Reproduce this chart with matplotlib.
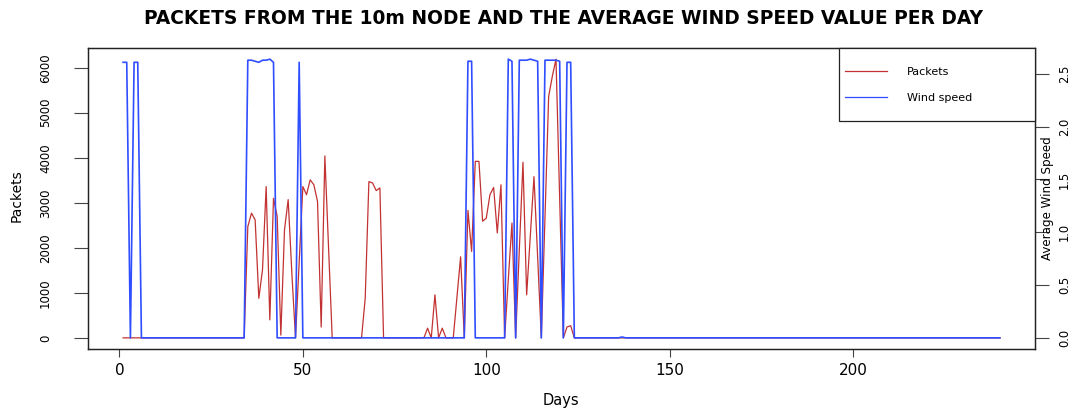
import matplotlib

matplotlib.use("Agg")
import matplotlib.pyplot as plt
from matplotlib.lines import Line2D
from matplotlib.patches import Rectangle
from matplotlib.ticker import FormatStrFormatter

plt.rcParams["font.family"] = ["DejaVu Sans"]

# daily values (day 1 .. 240)
days = list(range(1, 241))

packets = (
    [0] * 30
    + [0, 0, 0, 0, 2470, 2770, 2620, 880, 1510, 3360]          # 31-40
    + [400, 3100, 2700, 60, 2400, 3070, 1440, 0, 1700, 3360]   # 41-50
    + [3180, 3510, 3400, 3030, 240, 4040, 2000, 0, 0, 0]       # 51-60
    + [0, 0, 0, 0, 0, 0, 880, 3470, 3440, 3270]                # 61-70
    + [3330, 0, 0, 0, 0, 0, 0, 0, 0, 0]                        # 71-80
    + [0, 0, 0, 215, 0, 955, 0, 215, 0, 0]                     # 81-90
    + [0, 900, 1800, 0, 2830, 1920, 3920, 3920, 2590, 2660]    # 91-100
    + [3180, 3340, 2330, 3400, 0, 1300, 2550, 0, 1950, 3900]   # 101-110
    + [955, 2250, 3580, 1800, 0, 2700, 5360, 5810, 6190, 3100] # 111-120
    + [0, 240, 270, 0, 0, 0, 0, 0, 0, 0]                       # 121-130
    + [0] * 110
)

wind = (
    [2.61, 2.61, 0, 2.61, 2.61, 0, 0, 0, 0, 0]                 # 1-10
    + [0] * 20
    + [0, 0, 0, 0, 2.63, 2.63, 2.62, 2.61, 2.63, 2.63]         # 31-40
    + [2.64, 2.61, 0, 0, 0, 0, 0, 0, 2.61, 0]                  # 41-50
    + [0] * 40
    + [0, 0, 0, 0, 2.62, 2.62, 0, 0, 0, 0]                     # 91-100
    + [0, 0, 0, 0, 0, 2.64, 2.62, 0, 2.63, 2.63]               # 101-110
    + [2.63, 2.64, 2.63, 2.62, 0, 2.63, 2.63, 2.63, 2.63, 2.62]  # 111-120
    + [0, 2.61, 2.61, 0, 0, 0, 0, 0, 0, 0]                     # 121-130
    + [0, 0, 0, 0, 0, 0, 0.008, 0, 0, 0]                       # 131-140
    + [0] * 100
)

red = "#C23232"
blue = "#2F4EFF"

fig = plt.figure(figsize=(10.72, 4.09), dpi=100)
ax = fig.add_axes([88 / 1072, 1 - 349 / 409, 947 / 1072, 301 / 409])
ax.plot(days, packets, color=red, linewidth=0.9)
ax.margins(x=0.04, y=0.04)
ax.set_xticks([0, 50, 100, 150, 200])
ax.set_yticks([0, 1000, 2000, 3000, 4000, 5000, 6000])
ax.tick_params(axis="x", length=6, width=0.8, pad=4, labelsize=11, color="#444444")
ax.tick_params(axis="y", length=10, width=0.8, pad=16, labelsize=8.5,
               labelrotation=90, color="#444444")
for lab in ax.get_yticklabels():
    lab.set_va("center")

ax2 = ax.twinx()
ax2.plot(days, wind, color=blue, linewidth=1.2)
ax2.margins(x=0.04, y=0.04)
ax2.set_yticks([0, 0.5, 1.0, 1.5, 2.0, 2.5])
ax2.yaxis.set_major_formatter(FormatStrFormatter("%.1f"))
ax2.tick_params(axis="y", length=10, width=0.8, pad=6.5, labelsize=8.3,
                labelrotation=90, color="#444444")
for lab in ax2.get_yticklabels():
    lab.set_va("center")

for a in (ax, ax2):
    for s in a.spines.values():
        s.set_color("#222222")
        s.set_linewidth(0.9)

# legend box in the top right corner
ax2.add_patch(Rectangle((0.793, 0.757), 0.207, 0.243, transform=ax2.transAxes,
                        facecolor="white", edgecolor="#222222", linewidth=0.9,
                        clip_on=False, zorder=5))
handles = [Line2D([], [], color=red, linewidth=0.9),
           Line2D([], [], color=blue, linewidth=0.9)]
ax2.legend(handles, ["Packets", "Wind speed"], loc="upper left",
           bbox_to_anchor=(845 / 1072, 1 - 67 / 409), bbox_transform=fig.transFigure,
           frameon=False, fontsize=8, handlelength=3.8, handletextpad=1.8,
           labelspacing=1.45, borderpad=0, borderaxespad=0).set_zorder(6)

fig.text(563 / 1072, 1 - 18 / 409,
         "PACKETS FROM THE 10m NODE AND THE AVERAGE WIND SPEED VALUE PER DAY",
         ha="center", va="center", fontsize=13.4, fontweight="bold")
fig.text(561 / 1072, 1 - 400 / 409, "Days", ha="center", va="center", fontsize=10.5)
fig.text(17 / 1072, 1 - 196 / 409, "Packets", rotation=90, ha="center", va="center",
         fontsize=10)
fig.text(1047 / 1072, 1 - 198 / 409, "Average Wind Speed", rotation=90,
         ha="center", va="center", fontsize=8.6)

fig.savefig("out.png", dpi=100)
